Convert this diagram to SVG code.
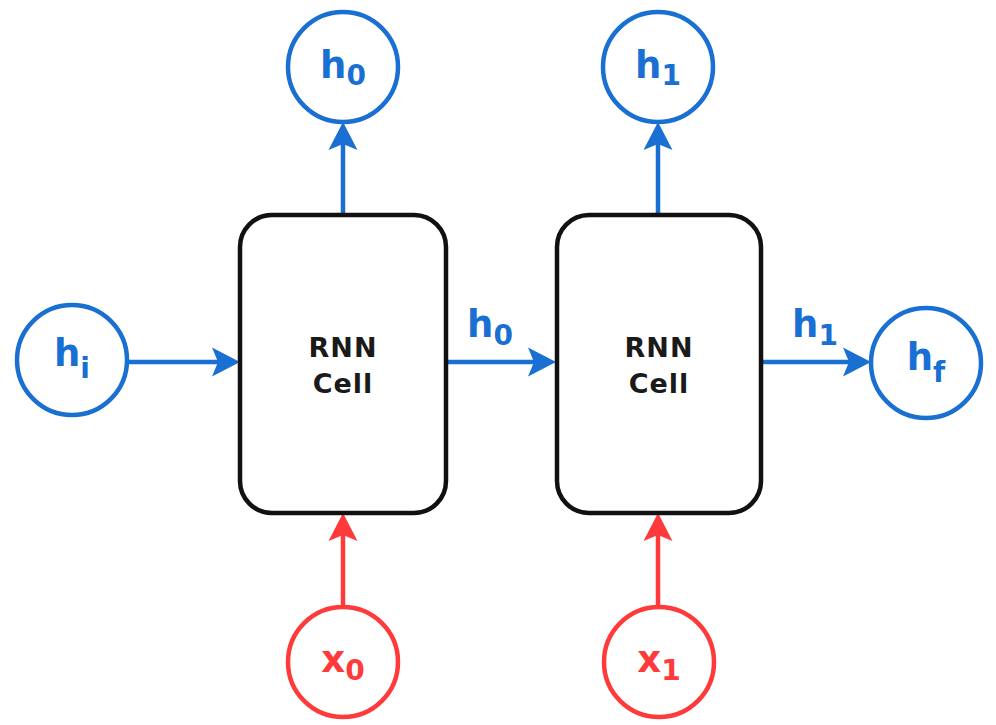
<svg xmlns="http://www.w3.org/2000/svg" width="996" height="725" viewBox="0 0 996 725">
  <style>
    .bg { fill: #ffffff; }
    .state { fill: #ffffff; stroke: #1a6fd2; stroke-width: 4.5; }
    .input { fill: #ffffff; stroke: #ff3a3a; stroke-width: 4.5; }
    .cell { fill: #ffffff; stroke: #111111; stroke-width: 4.5; }
    .lbl { font-family: "DejaVu Sans", Verdana, sans-serif; font-weight: bold; font-size: 37px; text-anchor: middle; }
    .lbl .sub { font-size: 28px; }
    .blue { fill: #1a6fd2; }
    .red { fill: #ff3a3a; }
    .celltxt { font-family: "DejaVu Sans", Verdana, sans-serif; font-weight: bold; font-size: 27px; fill: #1a1a1a; text-anchor: middle; letter-spacing: 1px; }
    .wire-b { stroke: #1a6fd2; stroke-width: 4.5; fill: none; }
    .wire-r { stroke: #ff3a3a; stroke-width: 4.5; fill: none; }
  </style>
  <defs>
    <marker id="headBlue" markerUnits="userSpaceOnUse" markerWidth="60" markerHeight="60" refX="0" refY="0" orient="auto" overflow="visible">
      <path d="M18,0 L-10,-14.5 L-4,0 L-10,14.5 Z" fill="#1a6fd2"/>
    </marker>
    <marker id="headRed" markerUnits="userSpaceOnUse" markerWidth="60" markerHeight="60" refX="0" refY="0" orient="auto" overflow="visible">
      <path d="M18,0 L-10,-14.5 L-4,0 L-10,14.5 Z" fill="#ff3a3a"/>
    </marker>
  </defs>

  <rect class="bg" x="0" y="0" width="996" height="725"/>

  <!-- connectors -->
  <g id="connectors">
    <line class="wire-b" x1="127" y1="362" x2="222" y2="362" marker-end="url(#headBlue)"/>
    <line class="wire-b" x1="446" y1="362" x2="538" y2="362" marker-end="url(#headBlue)"/>
    <line class="wire-b" x1="761" y1="362" x2="853" y2="362" marker-end="url(#headBlue)"/>
    <line class="wire-b" x1="343" y1="215" x2="343" y2="140" marker-end="url(#headBlue)"/>
    <line class="wire-b" x1="658" y1="215" x2="658" y2="140" marker-end="url(#headBlue)"/>
    <line class="wire-r" x1="343" y1="607" x2="343" y2="531" marker-end="url(#headRed)"/>
    <line class="wire-r" x1="658" y1="607" x2="658" y2="531" marker-end="url(#headRed)"/>
    <text class="lbl blue" x="490" y="337">h<tspan class="sub" dy="8">0</tspan></text>
    <text class="lbl blue" x="815" y="337">h<tspan class="sub" dy="8">1</tspan></text>
  </g>

  <!-- RNN cells -->
  <g id="cell0">
    <rect class="cell" x="240" y="215" width="206" height="298" rx="32"/>
    <text class="celltxt" x="343" y="357">RNN</text>
    <text class="celltxt" x="343" y="393">Cell</text>
  </g>
  <g id="cell1">
    <rect class="cell" x="557" y="215" width="204" height="298" rx="32"/>
    <text class="celltxt" x="659" y="357">RNN</text>
    <text class="celltxt" x="659" y="393">Cell</text>
  </g>

  <!-- hidden states -->
  <g id="h_out0">
    <circle class="state" cx="343" cy="67" r="55"/>
    <text class="lbl blue" x="343" y="78">h<tspan class="sub" dy="7">0</tspan></text>
  </g>
  <g id="h_out1">
    <circle class="state" cx="658" cy="67" r="55"/>
    <text class="lbl blue" x="658" y="78">h<tspan class="sub" dy="7">1</tspan></text>
  </g>
  <g id="h_init">
    <circle class="state" cx="72" cy="360" r="55"/>
    <text class="lbl blue" x="72" y="366">h<tspan class="sub" dy="12">i</tspan></text>
  </g>
  <g id="h_final">
    <circle class="state" cx="926" cy="363" r="55"/>
    <text class="lbl blue" x="926" y="370">h<tspan class="sub" dy="12">f</tspan></text>
  </g>

  <!-- inputs -->
  <g id="x_in0">
    <circle class="input" cx="343" cy="662" r="55"/>
    <text class="lbl red" x="343" y="672">x<tspan class="sub" dy="8">0</tspan></text>
  </g>
  <g id="x_in1">
    <circle class="input" cx="659" cy="662" r="55"/>
    <text class="lbl red" x="659" y="672">x<tspan class="sub" dy="8">1</tspan></text>
  </g>
</svg>
